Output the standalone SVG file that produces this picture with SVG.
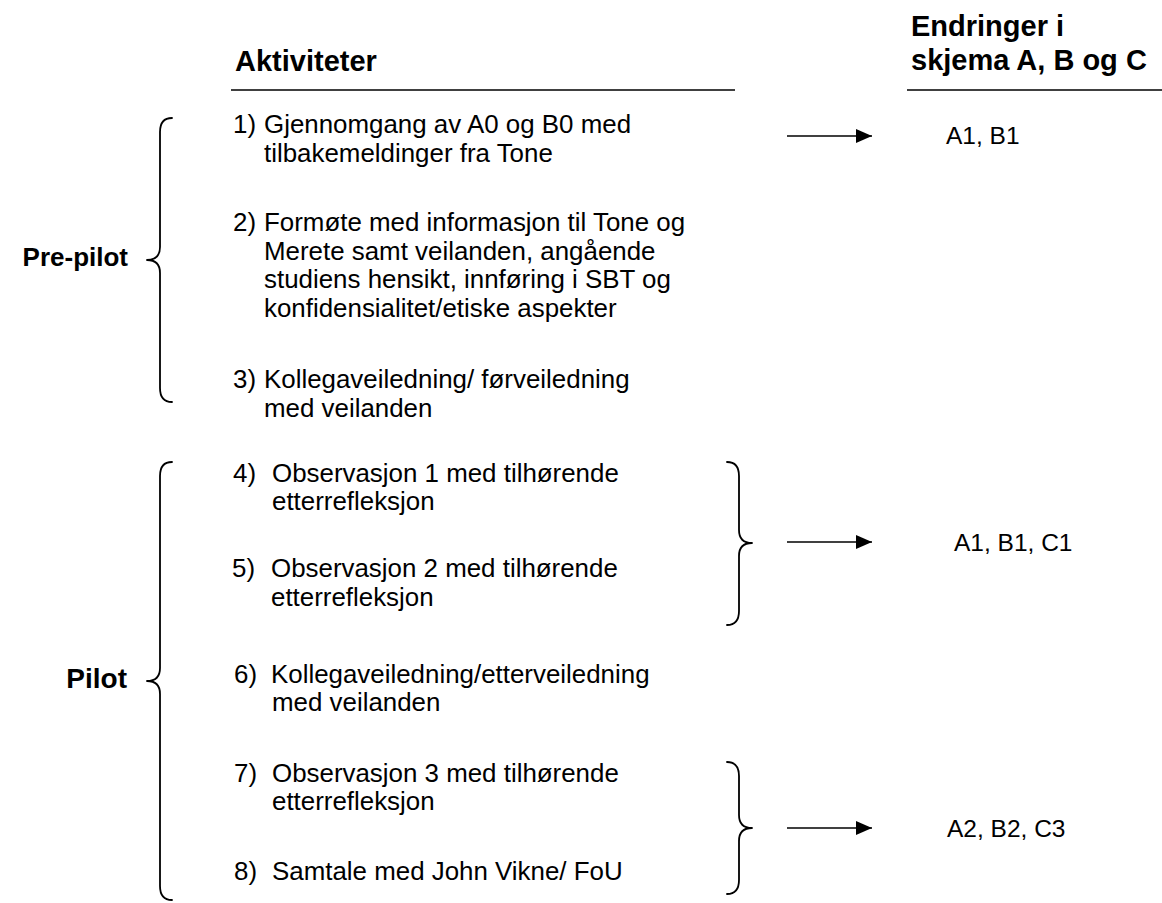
<svg xmlns="http://www.w3.org/2000/svg" width="1162" height="903" viewBox="0 0 1162 903">
  <style>
    .hd { font-family: "Liberation Sans", Arial, sans-serif; font-weight: bold; font-size: 29px; fill: #000; }
    .ph { font-family: "Liberation Sans", Arial, sans-serif; font-weight: bold; font-size: 27px; fill: #000; }
    .tx { font-family: "Liberation Sans", Arial, sans-serif; font-size: 25.9px; fill: #000; }
    .rs { font-family: "Liberation Sans", Arial, sans-serif; font-size: 24.5px; fill: #000; }
    .rule { stroke: #000; stroke-width: 1.6; fill: none; }
    .brace { stroke: #000; stroke-width: 1.8; fill: none; stroke-linejoin: round; stroke-linecap: round; }
    .arrow { stroke: #000; stroke-width: 1.6; fill: none; marker-end: url(#head); }
  </style>
  <defs>
    <marker id="head" viewBox="0 0 16 14" refX="16" refY="7" markerWidth="16" markerHeight="14" markerUnits="userSpaceOnUse" orient="auto">
      <path d="M0,0 L16,7 L0,14 Z" fill="#000"/>
    </marker>
  </defs>
  <rect width="1162" height="903" fill="#fff"/>

  <!-- column headings -->
  <g id="heading-activities">
    <text class="hd" x="235" y="71">Aktiviteter</text>
    <line class="rule" x1="231" y1="90" x2="735" y2="90"/>
  </g>
  <g id="heading-changes">
    <text class="hd" x="911" y="36">Endringer i</text>
    <text class="hd" x="911" y="70">skjema A, B og C</text>
    <line class="rule" x1="907" y1="90" x2="1162" y2="90"/>
  </g>

  <!-- phase: pre-pilot -->
  <g id="phase-prepilot">
    <text class="ph" x="128" y="266" text-anchor="end" style="font-size:26px">Pre-pilot</text>
    <path class="brace" d="M172,118 Q160,118 160,132 L160,247 Q160,260 147,260 Q160,260 160,273 L160,388 Q160,402 172,402"/>
  </g>

  <g id="item-1">
    <text class="tx" x="233" y="133">1)</text>
    <text class="tx" x="264" y="133">Gjennomgang av A0 og B0 med</text>
    <text class="tx" x="264" y="161.5">tilbakemeldinger fra Tone</text>
  </g>
  <g id="item-2">
    <text class="tx" x="233" y="231">2)</text>
    <text class="tx" x="264" y="231">Formøte med informasjon til Tone og</text>
    <text class="tx" x="264" y="259.5">Merete samt veilanden, angående</text>
    <text class="tx" x="264" y="288">studiens hensikt, innføring i SBT og</text>
    <text class="tx" x="264" y="316.5">konfidensialitet/etiske aspekter</text>
  </g>
  <g id="item-3">
    <text class="tx" x="233" y="388">3)</text>
    <text class="tx" x="264" y="388">Kollegaveiledning/ førveiledning</text>
    <text class="tx" x="264" y="416.5">med veilanden</text>
  </g>

  <!-- phase: pilot -->
  <g id="phase-pilot">
    <text class="ph" x="127" y="688" text-anchor="end" style="font-size:28px">Pilot</text>
    <path class="brace" d="M172,462 Q160,462 160,476 L160,668 Q160,681 147,681 Q160,681 160,694 L160,886 Q160,900 172,900"/>
  </g>

  <g id="item-4">
    <text class="tx" x="233" y="482">4)</text>
    <text class="tx" x="272" y="482">Observasjon 1 med tilhørende</text>
    <text class="tx" x="272" y="510">etterrefleksjon</text>
  </g>
  <g id="item-5">
    <text class="tx" x="232" y="577">5)</text>
    <text class="tx" x="271" y="577">Observasjon 2 med tilhørende</text>
    <text class="tx" x="271" y="605.5">etterrefleksjon</text>
  </g>
  <g id="item-6">
    <text class="tx" x="234" y="683">6)</text>
    <text class="tx" x="271" y="683">Kollegaveiledning/etterveiledning</text>
    <text class="tx" x="272" y="711">med veilanden</text>
  </g>
  <g id="item-7">
    <text class="tx" x="234" y="782">7)</text>
    <text class="tx" x="272" y="782">Observasjon 3 med tilhørende</text>
    <text class="tx" x="272" y="810">etterrefleksjon</text>
  </g>
  <g id="item-8">
    <text class="tx" x="234" y="880">8)</text>
    <text class="tx" x="272" y="880">Samtale med John Vikne/ FoU</text>
  </g>

  <!-- closing braces grouping observations -->
  <g id="group-obs-1-2">
    <path class="brace" d="M727,462 Q739,462 739,476 L739,530 Q739,543 752,543 Q739,543 739,556 L739,611 Q739,625 727,625"/>
  </g>
  <g id="group-obs-3-talk">
    <path class="brace" d="M727,762 Q739,762 739,776 L739,815 Q739,828 752,828 Q739,828 739,841 L739,880 Q739,894 727,894"/>
  </g>

  <!-- resulting form versions -->
  <g id="result-1">
    <text class="rs" x="946" y="144">A1, B1</text>
  </g>
  <g id="result-2">
    <text class="rs" x="954" y="551">A1, B1, C1</text>
  </g>
  <g id="result-3">
    <text class="rs" x="947" y="837">A2, B2, C3</text>
  </g>

  <g id="connectors">
    <line class="arrow" x1="787" y1="136" x2="872" y2="136"/>
    <line class="arrow" x1="787" y1="542" x2="872" y2="542"/>
    <line class="arrow" x1="787" y1="828" x2="872" y2="828"/>
  </g>
</svg>
